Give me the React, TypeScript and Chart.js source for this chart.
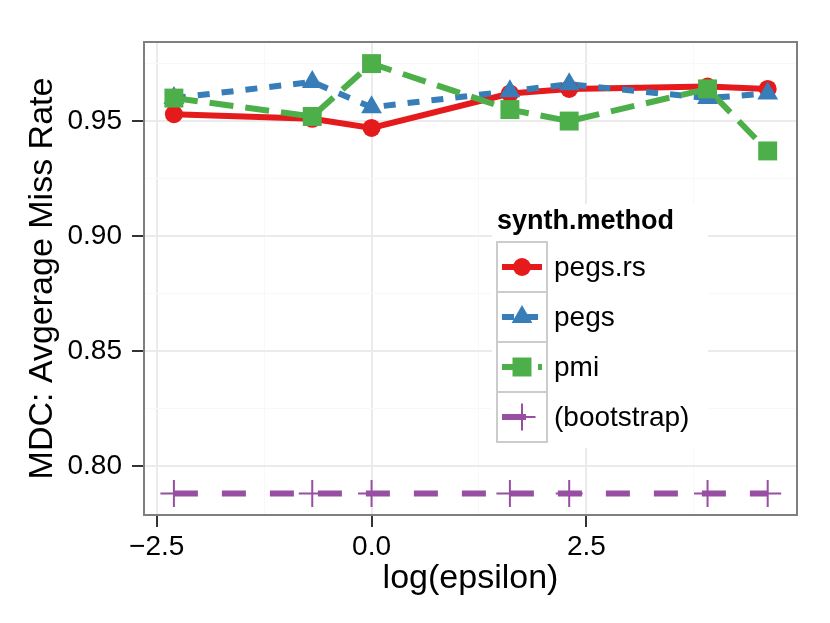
import React, { useEffect, useRef } from "react";
import { Chart, registerables } from "chart.js";
import { drawPoint } from "chart.js/helpers";

Chart.register(...registerables);

// log(epsilon) positions of the runs
const logEpsilon = [-2.3, -0.69, 0.0, 1.61, 2.3, 3.91, 4.61];

// average miss rate per method
const pegsRs = [0.953, 0.951, 0.947, 0.962, 0.964, 0.965, 0.964];
const pegs = [0.96, 0.967, 0.956, 0.963, 0.966, 0.96, 0.962];
const pmi = [0.96, 0.952, 0.975, 0.955, 0.95, 0.964, 0.937];
const bootstrap = [0.788, 0.788, 0.788, 0.788, 0.788, 0.788, 0.788];

const xTicks = [-2.5, -1.25, 0, 1.25, 2.5, 3.75];
const xMajor = [-2.5, 0, 2.5];
const yTicks = [0.8, 0.825, 0.85, 0.875, 0.9, 0.925, 0.95, 0.975];
const yMajor = [0.8, 0.85, 0.9, 0.95];

const FONT = "'Liberation Sans', Arial, Helvetica, sans-serif";

const methods = [
  { name: "pegs.rs", values: pegsRs, color: "#E41A1C", dash: [] as number[], point: "circle", radius: 9 },
  { name: "pegs", values: pegs, color: "#377EB8", dash: [12, 12], point: "triangle", radius: 12 },
  { name: "pmi", values: pmi, color: "#4DAF4A", dash: [24, 12], point: "rect", radius: 13.4 },
  { name: "(bootstrap)", values: bootstrap, color: "#984EA3", dash: [24, 24], point: "cross", radius: 13.5 },
];

const isIn = (v: number, list: number[]) => list.some((m) => Math.abs(m - v) < 1e-9);

// ggplot-like panel border + legend box
const panelAndLegend = {
  id: "panelAndLegend",
  afterDraw(chart: any) {
    const { ctx, chartArea } = chart;
    ctx.save();
    ctx.strokeStyle = "#7F7F7F";
    ctx.lineWidth = 2;
    ctx.strokeRect(chartArea.left, chartArea.top, chartArea.right - chartArea.left, chartArea.bottom - chartArea.top);

    // legend
    const lx = 497;
    const ly = 242;
    const key = 50;
    ctx.fillStyle = "#FFFFFF";
    ctx.fillRect(lx - 5, ly - 38, 216, key * methods.length + 44);

    ctx.fillStyle = "#000";
    ctx.font = `bold 27px ${FONT}`;
    ctx.textBaseline = "alphabetic";
    ctx.textAlign = "left";
    ctx.fillText("synth.method", lx, ly - 13);

    methods.forEach((m, i) => {
      const top = ly + i * key;
      const cy = top + key / 2;
      ctx.setLineDash([]);
      ctx.strokeStyle = "#CCCCCC";
      ctx.lineWidth = 2;
      ctx.strokeRect(lx, top, key, key);

      ctx.strokeStyle = m.color;
      ctx.lineWidth = 6;
      ctx.setLineDash(m.dash);
      ctx.beginPath();
      ctx.moveTo(lx + 5, cy);
      ctx.lineTo(lx + key - 5, cy);
      ctx.stroke();
      ctx.setLineDash([]);

      ctx.fillStyle = m.color;
      ctx.strokeStyle = m.color;
      ctx.lineWidth = 2;
      drawPoint(
        ctx,
        { pointStyle: m.point as any, radius: m.radius, rotation: 0, borderWidth: m.point === "cross" ? 2 : 0 },
        lx + key / 2,
        cy
      );

      ctx.fillStyle = "#000";
      ctx.font = `28px ${FONT}`;
      ctx.textBaseline = "middle";
      ctx.fillText(m.name, lx + key + 7, cy + 1);
    });
    ctx.restore();
  },
};

export default function App() {
  const canvasRef = useRef<HTMLCanvasElement>(null);
  const chartRef = useRef<Chart | null>(null);

  useEffect(() => {
    if (!canvasRef.current) return;
    if (chartRef.current) chartRef.current.destroy();

    const toPoints = (values: number[]) => values.map((y, i) => ({ x: logEpsilon[i], y }));

    const lineSets = methods.map((m) => ({
      label: m.name,
      data: toPoints(m.values),
      borderColor: m.color,
      backgroundColor: m.color,
      borderWidth: 6,
      borderDash: m.dash,
      pointRadius: 0,
      pointHoverRadius: 0,
      fill: false,
      tension: 0,
    }));
    const pointSets = methods.map((m) => ({
      label: m.name,
      data: toPoints(m.values),
      showLine: false,
      pointStyle: m.point,
      pointRadius: m.radius,
      pointHoverRadius: m.radius,
      pointBackgroundColor: m.color,
      pointBorderColor: m.color,
      pointBorderWidth: m.point === "cross" ? 2 : 0,
    }));

    const major = (ctx: any) => ctx.tick && isIn(ctx.tick.value, ctx.scale.axis === "x" ? xMajor : yMajor);
    const gridColor = (ctx: any) => (major(ctx) ? "#EBEBEB" : "#F8F8F8");
    const tickColor = (ctx: any) => (major(ctx) ? "#333333" : "rgba(0,0,0,0)");
    const gridWidth = (ctx: any) => (major(ctx) ? 2 : 1);

    chartRef.current = new Chart(canvasRef.current, {
      type: "line",
      data: { datasets: [...pointSets.reverse(), ...lineSets.reverse()] as any },
      options: {
        responsive: false,
        animation: false,
        layout: { padding: { top: 42, right: 33, left: 0, bottom: 0 } },
        plugins: { legend: { display: false }, tooltip: { enabled: false } },
        scales: {
          x: {
            type: "linear",
            min: -2.648,
            max: 4.951,
            afterBuildTicks: (scale: any) => {
              scale.ticks = xTicks.map((value) => ({ value }));
            },
            afterFit: (scale: any) => {
              scale.height = 108;
            },
            grid: { color: gridColor, lineWidth: gridWidth, tickColor, tickWidth: 2, tickLength: 12 },
            border: { display: false },
            ticks: {
              autoSkip: false,
              maxRotation: 0,
              padding: 3,
              color: "#000",
              font: { family: FONT, size: 28 },
              callback: (v: any) => (isIn(Number(v), xMajor) ? Number(v).toFixed(1).replace("-", "\u2212") : ""),
            },
            title: {
              display: true,
              text: "log(epsilon)",
              color: "#000",
              font: { family: FONT, size: 34 },
              padding: { top: 0, bottom: 24 },
            },
          },
          y: {
            type: "linear",
            min: 0.7786,
            max: 0.9844,
            afterBuildTicks: (scale: any) => {
              scale.ticks = yTicks.map((value) => ({ value }));
            },
            afterFit: (scale: any) => {
              scale.width = 144;
            },
            grid: { color: gridColor, lineWidth: gridWidth, tickColor, tickWidth: 2, tickLength: 12 },
            border: { display: false },
            ticks: {
              autoSkip: false,
              padding: 10,
              color: "#000",
              font: { family: FONT, size: 28 },
              callback: (v: any) => (isIn(Number(v), yMajor) ? Number(v).toFixed(2) : ""),
            },
            title: {
              display: true,
              text: "MDC: Avgerage Miss Rate",
              color: "#000",
              font: { family: FONT, size: 34 },
              padding: { top: 22, bottom: 0 },
            },
          },
        },
      },
      plugins: [panelAndLegend],
    });

    return () => {
      if (chartRef.current) {
        chartRef.current.destroy();
        chartRef.current = null;
      }
    };
  }, []);

  return (
    <div style={{ position: "absolute", left: 0, top: 0, width: 830, height: 623, background: "#fff" }}>
      <canvas ref={canvasRef} width={830} height={623} style={{ display: "block" }} />
    </div>
  );
}
